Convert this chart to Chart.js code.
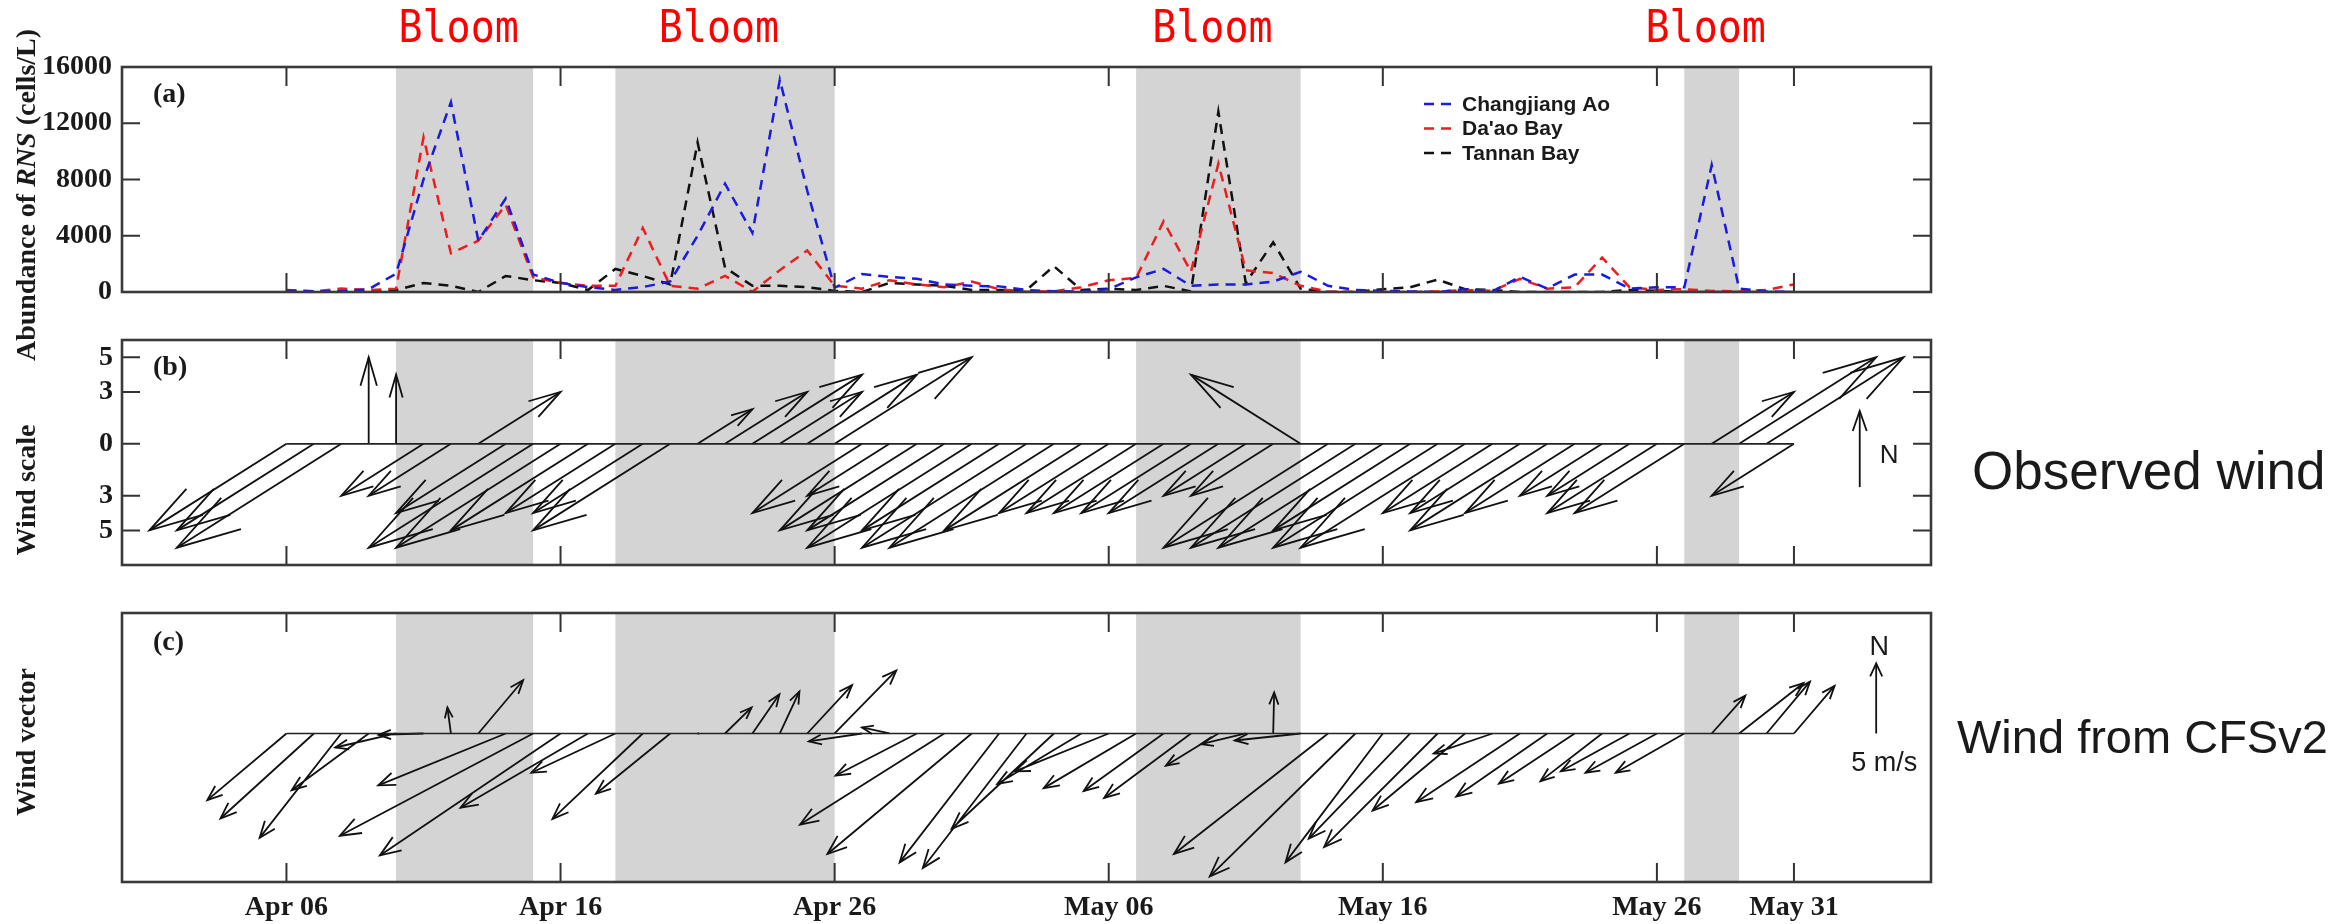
<!DOCTYPE html>
<html>
<head>
<meta charset="utf-8">
<script src="https://cdn.jsdelivr.net/npm/chart.js@4.4.1/dist/chart.umd.min.js"></script>
<style>
  html, body { margin: 0; padding: 0; background: #fff; }
  #wrap { position: relative; width: 2343px; height: 924px; }
  #wrap canvas { position: absolute; left: 0; top: 0; }
</style>
</head>
<body>
<div id="wrap">
  <canvas id="chartA" width="2343" height="924"></canvas>
  <canvas id="chartB" width="2343" height="924"></canvas>
  <canvas id="chartC" width="2343" height="924"></canvas>
</div>
<script>
// day number: 1 = Apr 01
const days = [6,7,8,9,10,11,12,13,14,15,16,17,18,19,20,21,22,23,24,25,26,27,28,29,30,31,32,33,34,35,
  36,37,38,39,40,41,42,43,44,45,46,47,48,49,50,51,52,53,54,55,56,57,58,59,60,61];

// RNS abundance (cells/L)
const changjiangAo = [100,50,50,200,1300,8000,13500,3650,6650,1250, 650,350,150,350,750,4000,7700,4200,15100,7200,
  300,1280,1080,940,540,440,400,140,50,40, 200,1040,1640,440,540,540,740,1440,440,140,
  80,40,0,200,40,1080,240,1240,1240,240, 340,340,9030,240,40,0];
const daaoBay = [140,50,240,140,240,11000,2750,3650,6200,1050, 650,440,440,4550,440,240,1150,20,1550,2950,
  440,240,840,540,340,740,200,20,40,340, 840,1000,5030,1440,9130,1540,1340,440,40,0,
  0,0,40,140,80,940,240,340,2450,340, 140,200,80,40,140,540];
const tannanBay = [40,30,30,30,140,640,440,0,1140,840, 640,140,1640,1140,540,10630,1740,440,440,340,
  80,0,640,540,440,140,140,140,1840,140, 240,140,440,40,12825,640,3535,240,0,0,
  200,340,880,200,140,0,0,0,0,140, 80,0,0,0,0,0];

// observed wind (wind scale), east / north components
const obsU = [-5,-5,-6,0,0,-3,-3,3,-4,-6, -6,-5,-4,-4,-5,2,3,4,3,4, 5,-4,-3,-5,-5,-6,-5,-6,-6,-5,
  -4,-4,-4,-4,-4,-3,-3,-4,-6,-6, -6,-5,-6,-6,-4,-4,-5,-4,-3,-3, -4,-4,3,5,5,-3];
const obsV = [-5,-5,-6,5,4,-3,-3,3,-4,-6, -6,-5,-4,-4,-5,2,3,4,3,4, 5,-4,-3,-5,-5,-6,-5,-6,-6,-5,
  -4,-4,-4,-4,-4,-3,-3,4,-6,-6, -6,-5,-6,-6,-4,-4,-5,-4,-3,-3, -4,-4,3,5,5,-3];

// CFSv2 wind (m/s), east / north components
const cfsU = [-5.65,-6.67,-5.83,-5.5,-4.34,-3.2,-0.25,3.2,-9.1,-13.8, -12.9,-9.1,-6.0,-6.45,-5.3,0.1,1.9,1.93,1.4,3.2,
  4.4,-3.8,-1.96,-5.8,-10.3,-10.3,-7.1,-7.4,-7.3,-6.0, -6.7,-6.6,-5.7,-6.2,-3.75,-3.2,0.07,-4.7,-11.0,-10.4,
  -6.95,-7.25,-8.1,-6.6,-4.2,-7.4,-6.5,-5.4,-4.4,-4.9, -5.1,-4.9,2.4,4.6,3.1,2.9];
const cfsV = [-4.76,-6.07,-7.45,-4.05,-1.0,-0.1,1.86,3.8,-3.7,-7.3, -8.7,-5.3,-2.8,-6.1,-4.3,0,1.86,2.8,3.0,3.45,
  4.5,-0.57,0.43,-3.0,-6.5,-8.6,-9.2,-9.6,-6.8,-3.6, -2.7,-3.9,-4.1,-4.6,-2.3,-0.76,2.93,-0.5,-8.6,-10.2,
  -9.2,-7.5,-8.1,-5.5,-1.43,-4.9,-4.5,-3.57,-3.4,-2.7, -2.8,-2.8,2.7,3.6,3.7,3.4];

const bloomStart = [10, 18, 37, 57];
const bloomEnd = [15, 26, 43, 59];
const tickDays = [6, 16, 26, 36, 46, 56, 61];
const tickLabels = ['Apr 06', 'Apr 16', 'Apr 26', 'May 06', 'May 16', 'May 26', 'May 31'];

// ---- layout / style ----
const W = 2343, H = 924;
const PLOT_LEFT = 122, PLOT_RIGHT = 1931;
const X_AXIS_H = 42;
const SERIF_B = "bold 28px 'Liberation Serif'";
const INK = '#1a1a1a';
const CFS_U_DAYS = 14.0 / 27.4;   // m/s -> days so arrows keep their true angle

Chart.defaults.color = INK;
Chart.defaults.font.family = "'Liberation Serif'";

function arrowData(u, v, k) {
  const pts = [];
  days.forEach((d, i) => {
    pts.push({x: d, y: 0}, {x: d + u[i] * k, y: v[i]}, {x: d, y: null});
  });
  return pts;
}

function drawHead(ctx, bx, by, tx, ty, back, side) {
  const dx = tx - bx, dy = ty - by, L = Math.hypot(dx, dy);
  if (L < 3) return;
  const ux = dx / L, uy = dy / L;
  const px = tx - ux * back, py = ty - uy * back;
  ctx.beginPath();
  ctx.moveTo(px - uy * side, py + ux * side);
  ctx.lineTo(tx, ty);
  ctx.lineTo(px + uy * side, py - ux * side);
  ctx.stroke();
}

function drawRotated(ctx, parts, cx, cy) {
  ctx.save();
  ctx.translate(cx, cy);
  ctx.rotate(-Math.PI / 2);
  ctx.textBaseline = 'middle';
  ctx.textAlign = 'left';
  ctx.fillStyle = INK;
  let total = 0;
  parts.forEach(p => { ctx.font = p.font; total += ctx.measureText(p.text).width; });
  let x = -total / 2;
  parts.forEach(p => { ctx.font = p.font; ctx.fillText(p.text, x, 0); x += ctx.measureText(p.text).width; });
  ctx.restore();
}

function makeDecor(cfg) {
  return {
    id: 'decor' + cfg.letter,
    beforeDatasetsDraw(chart) {
      const {ctx, chartArea: a, scales: {x}} = chart;
      ctx.save();
      ctx.fillStyle = '#d4d4d4';
      bloomStart.forEach((s, i) => {
        const x0 = x.getPixelForValue(s), x1 = x.getPixelForValue(bloomEnd[i]);
        ctx.fillRect(x0, a.top, x1 - x0, a.bottom - a.top);
      });
      ctx.restore();
    },
    afterDatasetsDraw(chart) {
      const ctx = chart.ctx;
      ctx.save();
      chart.data.datasets.forEach((ds, di) => {
        if (!ds.arrowHead) return;
        const pts = chart.getDatasetMeta(di).data;
        ctx.strokeStyle = ds.borderColor;
        ctx.lineWidth = ds.borderWidth;
        for (let i = 0; i + 1 < pts.length; i += 3) {
          const b = pts[i], t = pts[i + 1];
          const L = Math.hypot(t.x - b.x, t.y - b.y);
          let back, side;
          if (ds.arrowHead === 'rel') { back = 0.33 * L; side = 0.095 * L; }
          else { back = Math.min(10 + 0.05 * L, 0.4 * L); side = back * 0.38; }
          drawHead(ctx, b.x, b.y, t.x, t.y, back, side);
        }
      });
      ctx.restore();
    },
    afterDraw(chart) {
      const {ctx, chartArea: a, scales: {x, y}} = chart;
      ctx.save();
      // ticks inward
      ctx.strokeStyle = '#333';
      ctx.lineWidth = 2;
      tickDays.forEach(d => {
        const px = x.getPixelForValue(d);
        ctx.beginPath();
        ctx.moveTo(px, a.top); ctx.lineTo(px, a.top + 19);
        ctx.moveTo(px, a.bottom); ctx.lineTo(px, a.bottom - 19);
        ctx.stroke();
      });
      if (cfg.yTicks) {
        y.ticks.forEach(t => {
          const py = y.getPixelForValue(t.value);
          ctx.beginPath();
          ctx.moveTo(a.left, py); ctx.lineTo(a.left + 18, py);
          ctx.moveTo(a.right, py); ctx.lineTo(a.right - 18, py);
          ctx.stroke();
        });
      }
      // frame
      ctx.strokeStyle = '#3a3a3a';
      ctx.lineWidth = 2.6;
      ctx.strokeRect(a.left, a.top, a.right - a.left, a.bottom - a.top);
      // panel letter
      ctx.fillStyle = INK;
      ctx.font = SERIF_B;
      ctx.textAlign = 'left';
      ctx.textBaseline = 'middle';
      ctx.fillText('(' + cfg.letter + ')', a.left + 31, a.top + cfg.letterDy);
      // axis title
      drawRotated(ctx, cfg.title, 28, cfg.titleY);
      if (cfg.extra) cfg.extra(chart);
      ctx.restore();
    }
  };
}

function baseOptions(top, bottom, showX, yOpts) {
  return {
    responsive: false,
    animation: false,
    events: [],
    devicePixelRatio: 1,
    layout: { padding: { left: 0, right: W - PLOT_RIGHT, top: top, bottom: showX ? H - bottom - X_AXIS_H : H - bottom } },
    plugins: { legend: { display: false }, tooltip: { enabled: false } },
    scales: {
      x: {
        type: 'linear', min: 0, max: 66, display: showX,
        afterFit: s => { s.height = X_AXIS_H; },
        afterBuildTicks: s => { s.ticks = tickDays.map(v => ({value: v})); },
        grid: { display: false, drawTicks: false },
        border: { display: false },
        ticks: {
          autoSkip: false, maxRotation: 0, padding: 9, color: INK,
          font: { family: "'Liberation Serif'", size: 28, weight: 'bold' },
          callback: v => tickLabels[tickDays.indexOf(v)]
        }
      },
      y: Object.assign({
        type: 'linear',
        afterFit: s => { s.width = PLOT_LEFT; },
        grid: { display: false, drawTicks: false },
        border: { display: false }
      }, yOpts)
    }
  };
}

const tickFont = { family: "'Liberation Serif'", size: 28, weight: 'bold' };

// ---------- (a) abundance ----------
const series = [
  { label: 'Changjiang Ao', values: changjiangAo, color: '#1a1ae0' },
  { label: "Da'ao Bay", values: daaoBay, color: '#ee1c1c' },
  { label: 'Tannan Bay', values: tannanBay, color: '#111111' }
];

const decorA = makeDecor({
  letter: 'a', letterDy: 28, yTicks: true, titleY: 195,
  title: [
    { text: 'Abundance of ', font: SERIF_B },
    { text: 'RNS', font: "italic bold 28px 'Liberation Serif'" },
    { text: ' (cells/L)', font: SERIF_B }
  ],
  extra(chart) {
    const {ctx, scales: {x}} = chart;
    // Bloom labels (slightly tall, narrow glyphs)
    ctx.fillStyle = '#ff0000';
    ctx.font = "40px 'DejaVu Sans Mono'";
    ctx.textAlign = 'center';
    ctx.textBaseline = 'alphabetic';
    bloomStart.forEach((s, i) => {
      const cx = x.getPixelForValue((s + bloomEnd[i]) / 2) - 6;
      ctx.save();
      ctx.translate(cx, 42);
      ctx.scale(1, 1.12);
      ctx.fillText('Bloom', 0, 0);
      ctx.restore();
    });
    // legend
    ctx.font = "bold 21px 'Liberation Sans'";
    ctx.textAlign = 'left';
    ctx.textBaseline = 'middle';
    chart.data.datasets.forEach((ds, i) => {
      const ly = 104 + i * 24.5;
      ctx.strokeStyle = ds.borderColor;
      ctx.lineWidth = 2.5;
      ctx.setLineDash([10, 7]);
      ctx.beginPath(); ctx.moveTo(1424, ly); ctx.lineTo(1452, ly); ctx.stroke();
      ctx.setLineDash([]);
      ctx.fillStyle = INK;
      ctx.fillText(ds.label, 1462, ly + 1);
    });
  }
});

new Chart(document.getElementById('chartA'), {
  type: 'scatter',
  data: {
    datasets: series.map(s => ({
      label: s.label,
      data: days.map((d, i) => ({x: d, y: s.values[i]})),
      showLine: true,
      borderColor: s.color,
      borderWidth: 2.5,
      borderDash: [10, 7],
      pointRadius: 0
    }))
  },
  options: baseOptions(67, 334, false, {
    min: 0, max: 16000,
    ticks: { stepSize: 4000, padding: 10, color: INK, font: tickFont, callback: v => String(v) }
  }),
  plugins: [decorA]
});

// ---------- (b) observed wind ----------
const decorB = makeDecor({
  letter: 'b', letterDy: 28, yTicks: true, titleY: 490,
  title: [{ text: 'Wind scale', font: SERIF_B }],
  extra(chart) {
    const {ctx, chartArea: a, scales: {x, y}} = chart;
    // north key
    const kx = x.getPixelForValue(63.4), ky0 = y.getPixelForValue(-2.5), ky1 = y.getPixelForValue(1.9);
    ctx.strokeStyle = '#111'; ctx.lineWidth = 1.8;
    ctx.beginPath(); ctx.moveTo(kx, ky0); ctx.lineTo(kx, ky1); ctx.stroke();
    drawHead(ctx, kx, ky0, kx, ky1, 20, 7);
    ctx.fillStyle = INK;
    ctx.font = "26px 'Liberation Sans'";
    ctx.textAlign = 'left'; ctx.textBaseline = 'middle';
    ctx.fillText('N', kx + 20, y.getPixelForValue(-0.7));
    ctx.font = "53px 'Liberation Sans'";
    ctx.textBaseline = 'alphabetic';
    ctx.fillText('Observed wind', a.right + 41, 489);
  }
});

new Chart(document.getElementById('chartB'), {
  type: 'scatter',
  data: {
    datasets: [
      { data: [{x: days[0], y: 0}, {x: days[days.length - 1], y: 0}], showLine: true,
        borderColor: '#222', borderWidth: 1.6, pointRadius: 0 },
      { data: arrowData(obsU, obsV, 1), showLine: true, arrowHead: 'rel',
        borderColor: '#111', borderWidth: 1.8, pointRadius: 0 }
    ]
  },
  options: baseOptions(340, 607, false, {
    min: -7, max: 6,
    afterBuildTicks: s => { s.ticks = [-5, -3, 0, 3, 5].map(v => ({value: v})); },
    ticks: { padding: 9, color: INK, font: tickFont, callback: v => String(Math.abs(v)) }
  }),
  plugins: [decorB]
});

// ---------- (c) CFSv2 wind ----------
const decorC = makeDecor({
  letter: 'c', letterDy: 30, yTicks: false, titleY: 742,
  title: [{ text: 'Wind vector', font: SERIF_B }],
  extra(chart) {
    const {ctx, chartArea: a, scales: {x, y}} = chart;
    const kx = x.getPixelForValue(64.0), ky0 = y.getPixelForValue(0), ky1 = y.getPixelForValue(5);
    ctx.strokeStyle = '#111'; ctx.lineWidth = 1.8;
    ctx.beginPath(); ctx.moveTo(kx, ky0); ctx.lineTo(kx, ky1); ctx.stroke();
    drawHead(ctx, kx, ky0, kx, ky1, 13, 6);
    ctx.fillStyle = INK;
    ctx.font = "27px 'Liberation Sans'";
    ctx.textAlign = 'center'; ctx.textBaseline = 'middle';
    ctx.fillText('N', kx + 3, ky1 - 16);
    ctx.fillText('5 m/s', kx + 8, ky0 + 30);
    ctx.font = "47px 'Liberation Sans'";
    ctx.textAlign = 'left'; ctx.textBaseline = 'alphabetic';
    ctx.fillText('Wind from CFSv2', a.right + 26, 753);
  }
});

new Chart(document.getElementById('chartC'), {
  type: 'scatter',
  data: {
    datasets: [
      { data: [{x: days[0], y: 0}, {x: days[days.length - 1], y: 0}], showLine: true,
        borderColor: '#222', borderWidth: 1.6, pointRadius: 0 },
      { data: arrowData(cfsU, cfsV, CFS_U_DAYS), showLine: true, arrowHead: 'fixed',
        borderColor: '#111', borderWidth: 1.8, pointRadius: 0 }
    ]
  },
  options: baseOptions(613, 882, true, {
    min: -10.6, max: 8.6,
    ticks: { display: false }
  }),
  plugins: [decorC]
});
</script>
</body>
</html>
